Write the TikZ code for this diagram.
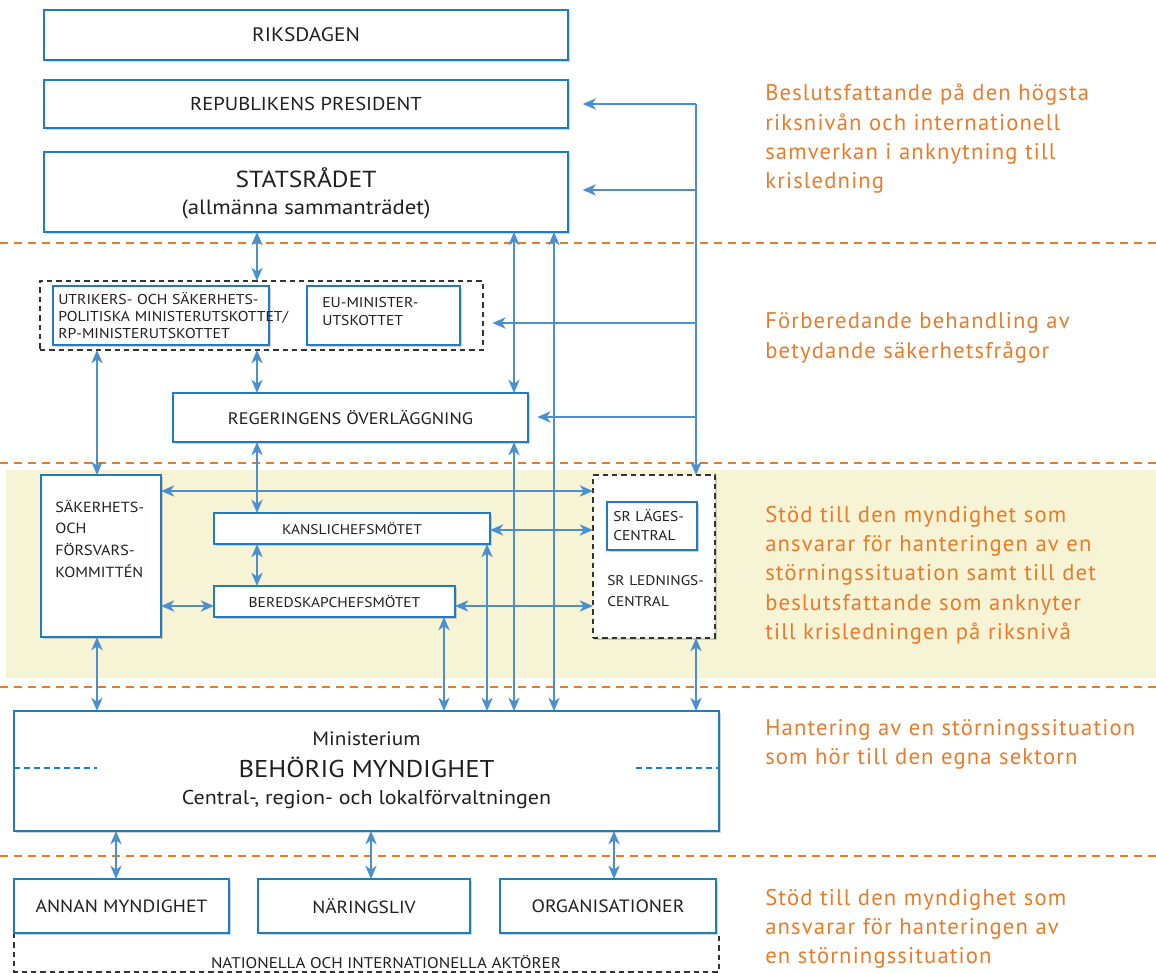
\documentclass[tikz,border=0pt]{standalone}
\usepackage{fontspec}
\setmainfont{PT Sans}
\newfontfamily\boxfont[FakeStretch=1.1]{PT Sans}
\newfontfamily\orfont[LetterSpace=5]{PT Sans}
\usetikzlibrary{arrows.meta,shadows}
\definecolor{bbord}{HTML}{1F7CC2}
\definecolor{barr}{HTML}{4A8FD0}
\definecolor{oran}{HTML}{E87B2A}
\definecolor{band}{HTML}{F7F3D5}
\definecolor{txt}{HTML}{231F20}
\newcommand{\fs}[1]{\fontsize{#1}{#1}\selectfont}
\tikzset{
  sz/.style 2 args={minimum width=#1*0.75pt, minimum height=#2*0.75pt},
  box/.style={draw=bbord, line width=1.2pt, fill=white, inner sep=0pt, outer sep=0pt,
    text=txt, align=center, font=\boxfont,
    drop shadow={shadow xshift=1.5pt, shadow yshift=-1.5pt, opacity=0.35}},
  dbox/.style={draw=black!80, line width=0.8pt, dash pattern=on 4pt off 3pt, inner sep=0pt, outer sep=0pt},
  lbl/.style={text=txt, font=\boxfont, anchor=base west, align=left, inner sep=0pt, text width=12cm},
  tip/.tip={Stealth[length=10pt,width=8.5pt,inset=3pt]},
  arr/.style={barr, line width=1.1pt, tip-tip},
  arr1/.style={barr, line width=1.1pt, -tip},
  ln/.style={barr, line width=1.1pt},
  odash/.style={oran, line width=1.4pt, dash pattern=on 6pt off 4.5pt},
  otext/.style={text=oran, anchor=base west, align=left, inner sep=0pt, text width=14cm,
    font=\orfont\fontsize{17}{22}\selectfont},
}
\begin{document}
\begin{tikzpicture}[x=0.75pt,y=-0.75pt]
\useasboundingbox (0,0) rectangle (1156,973);
% band
\fill[band] (6,470) rectangle (1156,678);
\draw[odash] (0,243) -- (1156,243);
\draw[odash] (0,463) -- (1156,463);
\draw[odash] (0,687) -- (1156,687);
\draw[odash] (0,856) -- (1156,856);

% boxes
\node[box, sz={524}{50}, font=\boxfont\fs{14.6}] (riks) at (306,35) {RIKSDAGEN};
\node[box, sz={524}{48}, font=\boxfont\fs{14}] (pres) at (306,104) {REPUBLIKENS PRESIDENT};
\node[box, sz={524}{80}] (stat) at (306,192) {};
\node[text=txt, font=\boxfont\fs{17.4}, inner sep=0pt] (statt) at (306,178) {STATSRÅDET};
\node[text=txt, font=\boxfont\fs{15.5}, inner sep=0pt] (stats) at (306,209) {(allmänna sammanträdet)};

\node[dbox, sz={443}{69}] (grp) at (261.5,315.5) {};
\node[box, sz={216}{59}] (utr) at (161,315.5) {};
\node[lbl, font=\boxfont\fontsize{10.7}{12.4}\selectfont] (utrt) at (58,305) {UTRIKERS- OCH SÄKERHETS-\\POLITISKA MINISTERUTSKOTTET/\\RP-MINISTERUTSKOTTET};
\node[box, sz={153}{59}] (eu) at (383.5,315.5) {};
\node[lbl, font=\boxfont\fontsize{10.7}{12.8}\selectfont] (eut) at (322,308) {EU-MINISTER-\\UTSKOTTET};

\node[box, sz={355}{49}, font=\boxfont\fs{12.5}] (reg) at (350.5,417.5) {REGERINGENS ÖVERLÄGGNING};

\node[box, sz={120}{162}] (sak) at (101,556) {};
\node[lbl, font=\boxfont\fontsize{11}{16.3}\selectfont] (sakt) at (55,512) {SÄKERHETS-\\OCH\\FÖRSVARS-\\KOMMITTÉN};
\node[box, sz={276}{31}, font=\boxfont\fs{10.5}] (kan) at (352,528.5) {KANSLICHEFSMÖTET};
\node[box, sz={241}{31}, font=\boxfont\fs{10.6}] (ber) at (334.5,601.5) {BEREDSKAPCHEFSMÖTET};

\node[dbox, fill=white, sz={122}{163}, drop shadow={shadow xshift=1.5pt, shadow yshift=-1.5pt, opacity=0.35}] (srl) at (654,556.5) {};
\node[box, sz={90}{48}, drop shadow={opacity=0}] (srlag) at (652,526) {};
\node[lbl, font=\boxfont\fontsize{10.6}{14.3}\selectfont] (srlagt) at (613,521) {SR LÄGES-\\CENTRAL};
\node[lbl, font=\boxfont\fontsize{10.5}{15.8}\selectfont] (srlt) at (607,585) {SR LEDNINGS-\\CENTRAL};

\node[box, sz={705}{120}] (beh) at (366.5,771) {};
\node[text=txt, font=\boxfont\fs{14.5}, inner sep=0pt] (beh1) at (366.5,739) {Ministerium};
\node[text=txt, font=\boxfont\fs{18.2}, inner sep=0pt] (beh2) at (366.5,767) {BEHÖRIG MYNDIGHET};
\node[text=txt, font=\boxfont\fs{15}, inner sep=0pt] (beh3) at (366.5,799) {Central-, region- och lokalförvaltningen};
\draw[bbord, line width=1.2pt, dash pattern=on 4.5pt off 3pt] (beh.west |- 0,768) -- (97,768);
\draw[bbord, line width=1.2pt, dash pattern=on 4.5pt off 3pt] (636,768) -- (beh.east |- 0,768);

\draw[dbox] (14,933) -- (14,972) -- (719,972) -- (719,933);
\node[text=txt, font=\boxfont\fs{11.6}, inner sep=0pt] (nat) at (386,962) {NATIONELLA OCH INTERNATIONELLA AKTÖRER};
\node[box, sz={215}{54}, font=\boxfont\fs{13.3}] (ann) at (121.5,906) {ANNAN MYNDIGHET};
\node[box, sz={212}{54}, font=\boxfont\fs{13.2}] (nar) at (364,906) {NÄRINGSLIV};
\node[box, sz={216}{54}, font=\boxfont\fs{13.4}] (org) at (608,906) {ORGANISATIONER};

% coordinates
\coordinate (c97) at (97,0);
\coordinate (c116) at (116,0);
\coordinate (c257) at (257,0);
\coordinate (c371) at (371,0);
\coordinate (c444) at (444,0);
\coordinate (c487) at (487,0);
\coordinate (c514) at (514,0);
\coordinate (c554) at (554,0);
\coordinate (c614) at (614,0);
\coordinate (c696) at (696,0);
\coordinate (rtop) at (696,104);
\coordinate (r190) at (696,190);
\coordinate (r323) at (696,323);
\coordinate (r417) at (696,417);

% arrows
\draw[arr] (stat.south -| c257) -- (grp.north -| c257);
\draw[arr] (grp.south -| c257) -- (reg.north -| c257);
\draw[arr] (grp.south -| c97) -- (sak.north -| c97);
\draw[arr] (stat.south -| c514) -- (reg.north -| c514);
\draw[arr] (stat.south -| c554) -- (beh.north -| c554);
\draw[arr] (reg.south -| c514) -- (beh.north -| c514);
\draw[arr] (reg.south -| c257) -- (kan.north -| c257);
\draw[arr] (kan.south -| c257) -- (ber.north -| c257);
\draw[arr] (kan.south -| c487) -- (beh.north -| c487);
\draw[arr] (ber.south -| c444) -- (beh.north -| c444);
\draw[arr] (sak.south -| c97) -- (beh.north -| c97);
\draw[arr] (srl.south -| c696) -- (beh.north -| c696);

\draw[ln] (rtop) -- (r190) -- (r323) -- (r417);
\draw[arr1] (r417) -- (srl.north -| c696);
\draw[arr1, shorten >=11pt] (rtop) -- (pres.east |- rtop);
\draw[arr1, shorten >=11pt] (r190) -- (stat.east |- r190);
\draw[arr1, shorten >=7pt] (r323) -- (grp.east |- r323);
\draw[arr1, shorten >=7pt] (r417) -- (reg.east |- r417);

\coordinate (y491) at (0,491);
\coordinate (y530) at (0,530);
\coordinate (y606) at (0,606);
\draw[arr] (sak.east |- y491) -- (srl.west |- y491);
\draw[arr] (kan.east |- y530) -- (srl.west |- y530);
\draw[arr] (sak.east |- y606) -- (ber.west |- y606);
\draw[arr] (ber.east |- y606) -- (srl.west |- y606);

\draw[arr] (beh.south -| c116) -- (ann.north -| c116);
\draw[arr] (beh.south -| c371) -- (nar.north -| c371);
\draw[arr] (beh.south -| c614) -- (org.north -| c614);

% orange texts
\node[otext] (o1) at (765,101) {Beslutsfattande på den högsta\\riksnivån och internationell\\samverkan i anknytning till\\krisledning};
\node[otext] (o2) at (765,329) {Förberedande behandling av\\betydande säkerhetsfrågor};
\node[otext] (o3) at (765,522) {Stöd till den myndighet som\\ansvarar för hanteringen av en\\störningssituation samt till det\\beslutsfattande som anknyter\\till krisledningen på riksnivå};
\node[otext] (o4) at (765,735) {Hantering av en störningssituation\\som hör till den egna sektorn};
\node[otext] (o5) at (765,905) {Stöd till den myndighet som\\ansvarar för hanteringen av\\en störningssituation};
\end{tikzpicture}
\end{document}
